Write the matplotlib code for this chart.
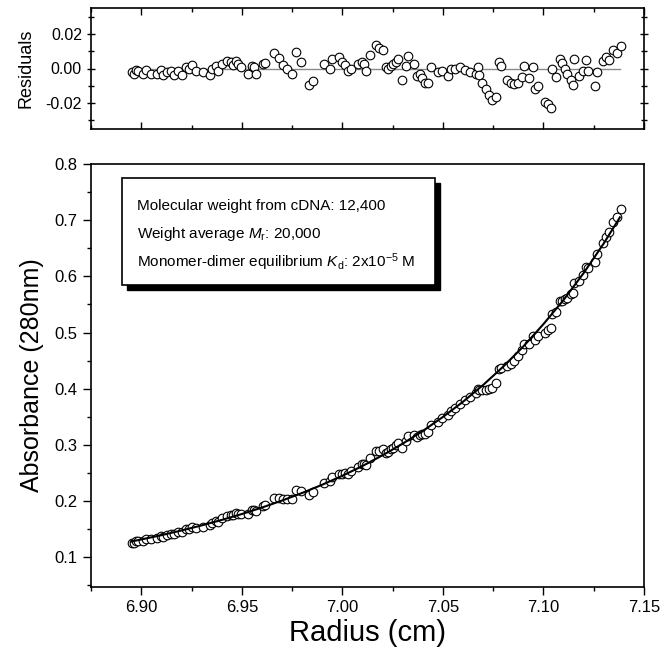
import matplotlib
matplotlib.use("Agg")
import matplotlib.pyplot as plt
from matplotlib.patches import Rectangle
from matplotlib.ticker import MultipleLocator

plt.rcParams['font.family'] = ['Liberation Sans', 'DejaVu Sans']
plt.rcParams['mathtext.fontset'] = 'custom'
plt.rcParams['mathtext.rm'] = 'Liberation Sans'
plt.rcParams['mathtext.it'] = 'Liberation Sans:italic'

radius = [6.8952, 6.8962, 6.8973, 6.8983, 6.9011, 6.9025, 6.9046, 6.9078, 6.9099, 6.9109,
          6.9130, 6.9147, 6.9162, 6.9183, 6.9204, 6.9221, 6.9235, 6.9252, 6.9271, 6.9305,
          6.9340, 6.9351, 6.9372, 6.9382, 6.9403, 6.9424, 6.9445, 6.9456, 6.9473, 6.9481,
          6.9498, 6.9529, 6.9550, 6.9561, 6.9571, 6.9603, 6.9613, 6.9662, 6.9687, 6.9704,
          6.9725, 6.9750, 6.9771, 6.9792, 6.9834, 6.9855, 6.9908, 6.9939, 6.9950, 6.9981,
          6.9998, 7.0013, 7.0027, 7.0044, 7.0076, 7.0097, 7.0107, 7.0120, 7.0139, 7.0166,
          7.0181, 7.0202, 7.0216, 7.0229, 7.0244, 7.0254, 7.0265, 7.0279, 7.0296, 7.0317,
          7.0328, 7.0355, 7.0370, 7.0384, 7.0397, 7.0412, 7.0426, 7.0443, 7.0475, 7.0496,
          7.0527, 7.0538, 7.0559, 7.0586, 7.0611, 7.0637, 7.0664, 7.0674, 7.0681, 7.0695,
          7.0712, 7.0727, 7.0742, 7.0763, 7.0779, 7.0790, 7.0821, 7.0838, 7.0853, 7.0874,
          7.0895, 7.0905, 7.0926, 7.0947, 7.0958, 7.0973, 7.1010, 7.1025, 7.1038, 7.1042,
          7.1063, 7.1084, 7.1090, 7.1105, 7.1115, 7.1136, 7.1147, 7.1153, 7.1178, 7.1195,
          7.1210, 7.1220, 7.1258, 7.1267, 7.1294, 7.1309, 7.1326, 7.1347, 7.1368, 7.1384]

absorbance = [0.1262, 0.1258, 0.1286, 0.1287, 0.1294, 0.1325, 0.1321, 0.1343, 0.1386, 0.1363,
              0.1395, 0.1418, 0.1407, 0.1445, 0.1443, 0.1502, 0.1504, 0.1542, 0.1523, 0.1546,
              0.1568, 0.1616, 0.1653, 0.1632, 0.1692, 0.1730, 0.1746, 0.1744, 0.1786, 0.1774,
              0.1773, 0.1773, 0.1843, 0.1845, 0.1822, 0.1913, 0.1929, 0.2049, 0.2053, 0.2033,
              0.2039, 0.2044, 0.2202, 0.2173, 0.2099, 0.2153, 0.2330, 0.2353, 0.2425, 0.2488,
              0.2482, 0.2492, 0.2480, 0.2527, 0.2607, 0.2658, 0.2662, 0.2645, 0.2775, 0.2886,
              0.2898, 0.2926, 0.2854, 0.2871, 0.2922, 0.2952, 0.2989, 0.3034, 0.2949, 0.3076,
              0.3159, 0.3171, 0.3137, 0.3179, 0.3185, 0.3197, 0.3232, 0.3361, 0.3412, 0.3473,
              0.3527, 0.3596, 0.3657, 0.3736, 0.3791, 0.3859, 0.3926, 0.3994, 0.3972, 0.3970,
              0.3985, 0.3999, 0.4019, 0.4109, 0.4359, 0.4376, 0.4402, 0.4448, 0.4496, 0.4577,
              0.4685, 0.4788, 0.4800, 0.4945, 0.4863, 0.4942, 0.4999, 0.5050, 0.5086, 0.5331,
              0.5369, 0.5564, 0.5566, 0.5600, 0.5619, 0.5684, 0.5710, 0.5887, 0.5910, 0.6017,
              0.6167, 0.6148, 0.6264, 0.6394, 0.6597, 0.6702, 0.6783, 0.6963, 0.7065, 0.7202]

residuals = [-0.0019, -0.0030, -0.0010, -0.0017, -0.0030, -0.0010, -0.0030, -0.0033, -0.0006, -0.0037,
             -0.0023, -0.0014, -0.0037, -0.0017, -0.0037, 0.0006, -0.0004, 0.0019, -0.0017, -0.0023,
             -0.0037, 0.0000, 0.0016, -0.0014, 0.0025, 0.0041, 0.0035, 0.0021, 0.0045, 0.0025,
             0.0006, -0.0029, 0.0016, 0.0006, -0.0029, 0.0025, 0.0029, 0.0087, 0.0060, 0.0019,
             -0.0004, -0.0033, 0.0097, 0.0039, -0.0095, -0.0072, 0.0025, 0.0000, 0.0054, 0.0068,
             0.0035, 0.0019, -0.0017, 0.0000, 0.0025, 0.0039, 0.0025, -0.0017, 0.0077, 0.0136,
             0.0118, 0.0107, 0.0006, -0.0004, 0.0016, 0.0025, 0.0039, 0.0054, -0.0066, 0.0016,
             0.0074, 0.0025, -0.0043, -0.0033, -0.0056, -0.0081, -0.0081, 0.0006, -0.0023, -0.0014,
             -0.0043, -0.0004, 0.0000, 0.0006, -0.0010, -0.0019, -0.0033, 0.0006, -0.0037, -0.0081,
             -0.0120, -0.0155, -0.0184, -0.0163, 0.0035, 0.0016, -0.0066, -0.0081, -0.0087, -0.0081,
             -0.0049, 0.0016, -0.0056, 0.0006, -0.0120, -0.0101, -0.0194, -0.0208, -0.0227, 0.0000,
             -0.0052, 0.0054, 0.0029, -0.0004, -0.0033, -0.0068, -0.0095, 0.0054, -0.0043, -0.0017,
             0.0050, -0.0017, -0.0101, -0.0019, 0.0041, 0.0064, 0.0048, 0.0107, 0.0087, 0.0132]

fit_radius = [6.895, 6.90, 6.91, 6.92, 6.93, 6.94, 6.95, 6.96, 6.97, 6.98, 6.99, 7.00, 7.01,
              7.02, 7.03, 7.04, 7.05, 7.06, 7.07, 7.08, 7.09, 7.10, 7.11, 7.12, 7.13, 7.138]
fit_abs = [0.1280, 0.1316, 0.1393, 0.1476, 0.1566, 0.1664, 0.1769, 0.1884, 0.2009, 0.2144,
           0.2291, 0.2450, 0.2624, 0.2815, 0.3022, 0.3248, 0.3497, 0.3768, 0.4066, 0.4393,
           0.4752, 0.5150, 0.5580, 0.6059, 0.6587, 0.7050]

zero_line_x = [6.895, 7.138]
zero_line_y = [0.0, 0.0]

x_ticks = [6.90, 6.95, 7.00, 7.05, 7.10, 7.15]
x_ticklabels = ["6.90", "6.95", "7.00", "7.05", "7.10", "7.15"]
y_ticks = [0.1, 0.2, 0.3, 0.4, 0.5, 0.6, 0.7, 0.8]
res_ticks = [-0.02, 0.0, 0.02]
res_ticklabels = ["-0.02", "0.00", "0.02"]

info_lines = ["Molecular weight from cDNA: 12,400",
              "Weight average $\\mathit{M}_{\\mathrm{r}}$: 20,000",
              "Monomer-dimer equilibrium $\\mathit{K}_{\\mathrm{d}}$: 2x10$^{\\mathrm{-5}}$ M"]

W, H = 664, 651
fig = plt.figure(figsize=(W / 100, H / 100), dpi=100)

def rect(l, t, r, b):
    return [l / W, 1 - b / H, (r - l) / W, (b - t) / H]

ax_r = fig.add_axes(rect(91, 8, 644, 129))
ax = fig.add_axes(rect(91, 164, 644, 587))

mk = dict(marker='o', markersize=6.2, markerfacecolor='white', markeredgecolor='black',
          markeredgewidth=0.8, linestyle='none')

# residuals panel
ax_r.plot(zero_line_x, zero_line_y, color='#8a8a8a', lw=1.0, zorder=1)
ax_r.plot(radius, residuals, zorder=2, **mk)
ax_r.set_xlim(6.875, 7.15)
ax_r.set_ylim(-0.035, 0.035)
ax_r.set_xticks(x_ticks)
ax_r.set_xticklabels([])
ax_r.xaxis.set_minor_locator(MultipleLocator(0.025))
ax_r.set_yticks(res_ticks)
ax_r.set_yticklabels(res_ticklabels, fontsize=11.5)
ax_r.yaxis.set_minor_locator(MultipleLocator(0.01))
ax_r.tick_params(axis='y', which='major', direction='inout', length=6, width=1, left=True, right=True)
ax_r.tick_params(axis='y', which='minor', direction='inout', length=4, width=1, left=True, right=True)
ax_r.tick_params(axis='x', which='major', direction='in', length=5, width=1, top=True, bottom=True)
ax_r.tick_params(axis='x', which='minor', direction='in', length=3, width=1, top=True, bottom=True)
ax_r.set_ylabel("Residuals", fontsize=13, labelpad=8)
for s in ax_r.spines.values():
    s.set_linewidth(1.2)

# main panel
ax.plot(radius, absorbance, zorder=2, **mk)
ax.plot(fit_radius, fit_abs, color='black', lw=1.5, zorder=3)
ax.set_xlim(6.875, 7.15)
ax.set_ylim(0.047, 0.8)
ax.set_xticks(x_ticks)
ax.set_xticklabels(x_ticklabels, fontsize=12)
ax.xaxis.set_minor_locator(MultipleLocator(0.025))
ax.set_yticks(y_ticks)
ax.set_yticklabels([f"{v:.1f}" for v in y_ticks], fontsize=12)
ax.yaxis.set_minor_locator(MultipleLocator(0.05))
ax.tick_params(axis='both', which='major', direction='out', length=6, width=1)
ax.tick_params(axis='both', which='minor', direction='out', length=3, width=1)
ax.tick_params(axis='both', which='both', top=False, right=False)
ax.set_xlabel("Radius (cm)", fontsize=21, labelpad=3)
ax.set_ylabel("Absorbance (280nm)", fontsize=18, labelpad=8)
for s in ax.spines.values():
    s.set_linewidth(1.2)

# info box with drop shadow
bl, bb, bw, bh = 0.056, 0.714, 0.566, 0.252
dx, dy = 0.009, 0.012
ax.add_patch(Rectangle((bl + dx, bb - dy), bw, bh, transform=ax.transAxes,
                       facecolor='black', edgecolor='black', zorder=5))
ax.add_patch(Rectangle((bl, bb), bw, bh, transform=ax.transAxes,
                       facecolor='white', edgecolor='black', lw=1.2, zorder=6))
for i, line in enumerate(info_lines):
    ax.text(bl + 0.028, bb + bh - 0.065 - i * 0.066, line, transform=ax.transAxes,
            fontsize=11, va='center', ha='left', zorder=7)

fig.savefig("out.png", dpi=100)
